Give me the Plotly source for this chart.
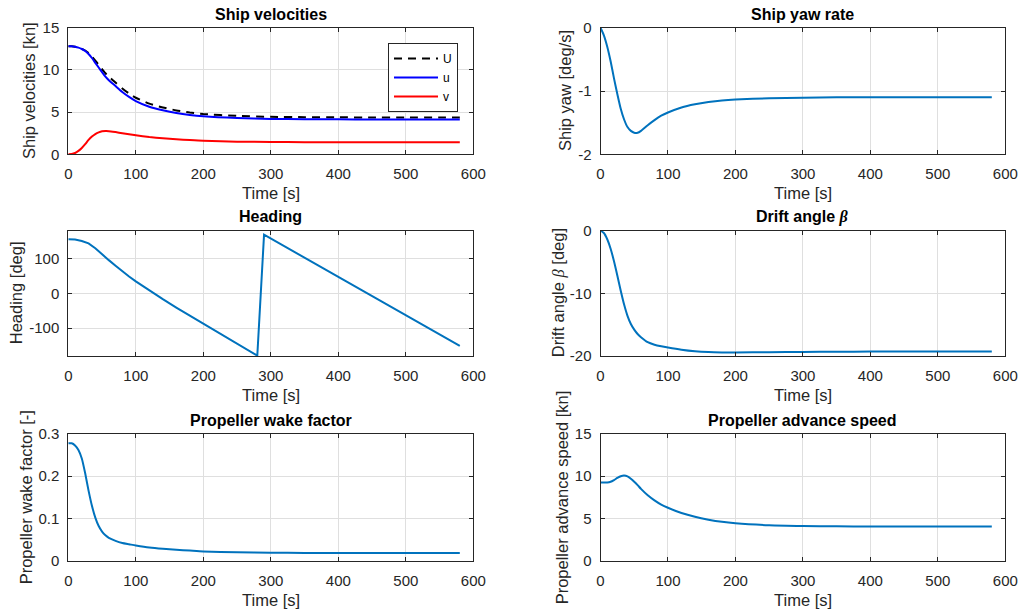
import plotly.graph_objects as go
from plotly.subplots import make_subplots

# ---------------- data ----------------
time_s = [0, 5, 10, 15, 20, 25, 30, 35, 40, 45, 50, 55, 60, 70, 80, 90, 100,
          120, 140, 160, 180, 200, 250, 300, 350, 400, 450, 500, 550, 580]

U_kn = [12.8, 12.8, 12.75, 12.65, 12.5, 12.3, 12.0, 11.6, 11.1, 10.6, 10.1, 9.6, 9.2,
        8.5, 7.8, 7.2, 6.7, 6.0, 5.55, 5.2, 4.95, 4.78, 4.55, 4.44, 4.4, 4.38, 4.37,
        4.37, 4.37, 4.37]
u_kn = [12.8, 12.8, 12.749, 12.644, 12.478, 12.241, 11.88, 11.41, 10.84, 10.28, 9.727,
        9.198, 8.782, 8.083, 7.389, 6.799, 6.311, 5.639, 5.215, 4.886, 4.656, 4.504,
        4.296, 4.193, 4.158, 4.14, 4.129, 4.129, 4.129, 4.129]
v_kn = [0.0, 0.03, 0.15, 0.4, 0.75, 1.2, 1.7, 2.1, 2.4, 2.6, 2.72, 2.75, 2.74, 2.63,
        2.5, 2.37, 2.25, 2.05, 1.9, 1.78, 1.68, 1.6, 1.5, 1.46, 1.44, 1.43, 1.43, 1.43,
        1.43, 1.43]

yaw_rate = [0.0, -0.12, -0.3, -0.53, -0.8, -1.05, -1.28, -1.45, -1.57, -1.63, -1.66,
            -1.66, -1.63, -1.54, -1.46, -1.39, -1.34, -1.26, -1.21, -1.175, -1.15, -1.135,
            -1.115, -1.105, -1.10, -1.10, -1.10, -1.10, -1.10, -1.10]

heading_t = [0, 10, 20, 30, 40, 50, 60, 70, 80, 90, 100, 120, 140, 160, 180, 200, 250,
             280, 290, 300, 350, 400, 450, 500, 550, 580]
heading_deg = [155, 154, 150, 143, 129, 111, 95, 79, 63, 48, 34, 8, -17, -41, -64, -88,
               -145, -179, 168, 157, 102, 47, -8, -63, -118, -151]

drift_deg = [0.0, -0.4, -1.4, -2.9, -4.9, -7.2, -9.6, -11.8, -13.6, -14.9, -15.8, -16.5,
             -17.0, -17.8, -18.2, -18.45, -18.65, -19.0, -19.25, -19.38, -19.43, -19.44,
             -19.4, -19.35, -19.32, -19.3, -19.3, -19.3, -19.3, -19.3]

wake = [0.278, 0.278, 0.273, 0.262, 0.242, 0.207, 0.166, 0.13, 0.102, 0.082, 0.069,
        0.06, 0.054, 0.047, 0.042, 0.039, 0.036, 0.031, 0.028, 0.026, 0.024, 0.022,
        0.020, 0.019, 0.0185, 0.018, 0.018, 0.018, 0.018, 0.018]

advance_kn = [9.25, 9.25, 9.26, 9.35, 9.55, 9.8, 10.0, 10.08, 9.98, 9.7, 9.35, 8.95, 8.5,
              7.75, 7.15, 6.65, 6.27, 5.65, 5.2, 4.86, 4.6, 4.43, 4.2, 4.11, 4.07, 4.05,
              4.04, 4.04, 4.04, 4.04]

x_ticks = [0, 100, 200, 300, 400, 500, 600]
vel_ticks = [0, 5, 10, 15]
yaw_ticks = [-2, -1, 0]
heading_ticks = [-100, 0, 100]
drift_ticks = [-20, -10, 0]
wake_ticks = [0, 0.1, 0.2, 0.3]
adv_ticks = [0, 5, 10, 15]

titles = ["Ship velocities", "Ship yaw rate", "Heading",
          "Drift angle <i><span style=\"font-family:Liberation Serif\">β</span></i>",
          "Propeller wake factor", "Propeller advance speed"]
ylabels = ["Ship velocities [kn]", "Ship yaw [deg/s]", "Heading [deg]",
           "Drift angle <i><span style=\"font-family:Liberation Serif\">β</span></i> [deg]",
           "Propeller wake factor [-]", "Propeller advance speed [kn]"]

# ---------------- figure ----------------
W, H = 1020, 614
FONT = "Liberation Sans, Arial, sans-serif"
TXT = "#262626"
MATLAB_BLUE = "#0072BD"

def px(xs):
    return xs / W

def py(ys):
    return 1 - ys / H

fig = make_subplots(rows=3, cols=2)

lw = 2
sm = 0.6
fig.add_trace(go.Scatter(x=time_s, y=U_kn, name="U", mode="lines",
                         line=dict(color="black", width=lw, dash="8px,6px",
                                   shape="spline", smoothing=sm)), row=1, col=1)
fig.add_trace(go.Scatter(x=time_s, y=u_kn, name="u", mode="lines",
                         line=dict(color="#0000FF", width=lw, shape="spline", smoothing=sm)),
              row=1, col=1)
fig.add_trace(go.Scatter(x=time_s, y=v_kn, name="v", mode="lines",
                         line=dict(color="#FF0000", width=lw, shape="spline", smoothing=sm)),
              row=1, col=1)
fig.add_trace(go.Scatter(x=time_s, y=yaw_rate, mode="lines", showlegend=False,
                         line=dict(color=MATLAB_BLUE, width=lw, shape="spline", smoothing=sm)),
              row=1, col=2)
fig.add_trace(go.Scatter(x=heading_t, y=heading_deg, mode="lines", showlegend=False,
                         line=dict(color=MATLAB_BLUE, width=lw)), row=2, col=1)
fig.add_trace(go.Scatter(x=time_s, y=drift_deg, mode="lines", showlegend=False,
                         line=dict(color=MATLAB_BLUE, width=lw, shape="spline", smoothing=sm)),
              row=2, col=2)
fig.add_trace(go.Scatter(x=time_s, y=wake, mode="lines", showlegend=False,
                         line=dict(color=MATLAB_BLUE, width=lw, shape="spline", smoothing=sm)),
              row=3, col=1)
fig.add_trace(go.Scatter(x=time_s, y=advance_kn, mode="lines", showlegend=False,
                         line=dict(color=MATLAB_BLUE, width=lw, shape="spline", smoothing=sm)),
              row=3, col=2)

# screen-pixel layout of the axes boxes
xdom_px = {1: (68.3, 473.3), 2: (600.5, 1005.3)}
ydom_px = {1: (27.7, 154.3), 2: (230.5, 356.0), 3: (434.0, 560.7)}

yinfo = [(vel_ticks, [0, 15]), (yaw_ticks, [-2, 0]), (heading_ticks, [-180, 180]),
         (drift_ticks, [-20, 0]), (wake_ticks, [0, 0.3]), (adv_ticks, [0, 15])]

def fmt(v):
    return "%g" % v

common = dict(showline=True, linecolor=TXT, linewidth=1, mirror="ticks",
              ticks="inside", ticklen=4, tickcolor=TXT, tickwidth=1,
              showgrid=True, gridcolor="#dfdfdf", gridwidth=1, zeroline=False,
              automargin=False,
              tickfont=dict(family=FONT, size=15, color=TXT))

annotations = []
idx = 0
for r in (1, 2, 3):
    for c in (1, 2):
        n = idx + 1
        xa = "xaxis" if n == 1 else "xaxis%d" % n
        ya = "yaxis" if n == 1 else "yaxis%d" % n
        x0, x1 = xdom_px[c]
        y0, y1 = ydom_px[r]
        ticks_y, rng = yinfo[idx]
        fig.layout[xa].update(domain=[px(x0), px(x1)], range=[0, 600],
                              tickvals=x_ticks, ticktext=[fmt(v) for v in x_ticks],
                              ticklabelstandoff=6, **common)
        fig.layout[ya].update(domain=[py(y1), py(y0)], range=rng,
                              tickvals=ticks_y, ticktext=[fmt(v) for v in ticks_y],
                              ticklabelstandoff=5, **common)
        cx = (x0 + x1) / 2
        ty = {1: 14, 2: 216.7, 3: 420.7}[r]
        annotations.append(dict(text="<b>" + titles[idx] + "</b>", x=px(cx), y=py(ty),
                                xref="paper", yref="paper", showarrow=False,
                                xanchor="center", yanchor="middle",
                                font=dict(family=FONT, size=16, color="black")))
        xy = {1: 193, 2: 395, 3: 600}[r]
        annotations.append(dict(text="Time [s]", x=px(cx), y=py(xy),
                                xref="paper", yref="paper", showarrow=False,
                                xanchor="center", yanchor="middle",
                                font=dict(family=FONT, size=16.5, color=TXT)))
        ylx = {0: 29, 1: 565, 2: 16, 3: 558, 4: 26, 5: 562}[idx]
        annotations.append(dict(text=ylabels[idx], x=px(ylx), y=py((y0 + y1) / 2),
                                xref="paper", yref="paper", showarrow=False, textangle=-90,
                                xanchor="center", yanchor="middle",
                                font=dict(family=FONT, size=16.5, color=TXT)))
        idx += 1

fig.update_layout(
    width=W, height=H, autosize=False,
    margin=dict(l=0, r=0, t=0, b=0, autoexpand=False),
    paper_bgcolor="white", plot_bgcolor="white",
    annotations=annotations,
    showlegend=True,
    legend=dict(x=px(458), y=py(43), xanchor="right", yanchor="top",
                bordercolor=TXT, borderwidth=1, bgcolor="white",
                font=dict(family=FONT, size=12, color="black"),
                tracegroupgap=0, itemwidth=44),
)

# remove the default page margin so the figure fills the 1020x614 window exactly
fig.write_html("out.html",
               config={"displayModeBar": False},
               post_script="document.body.style.margin='0';"
                           "document.body.style.overflow='hidden';")
